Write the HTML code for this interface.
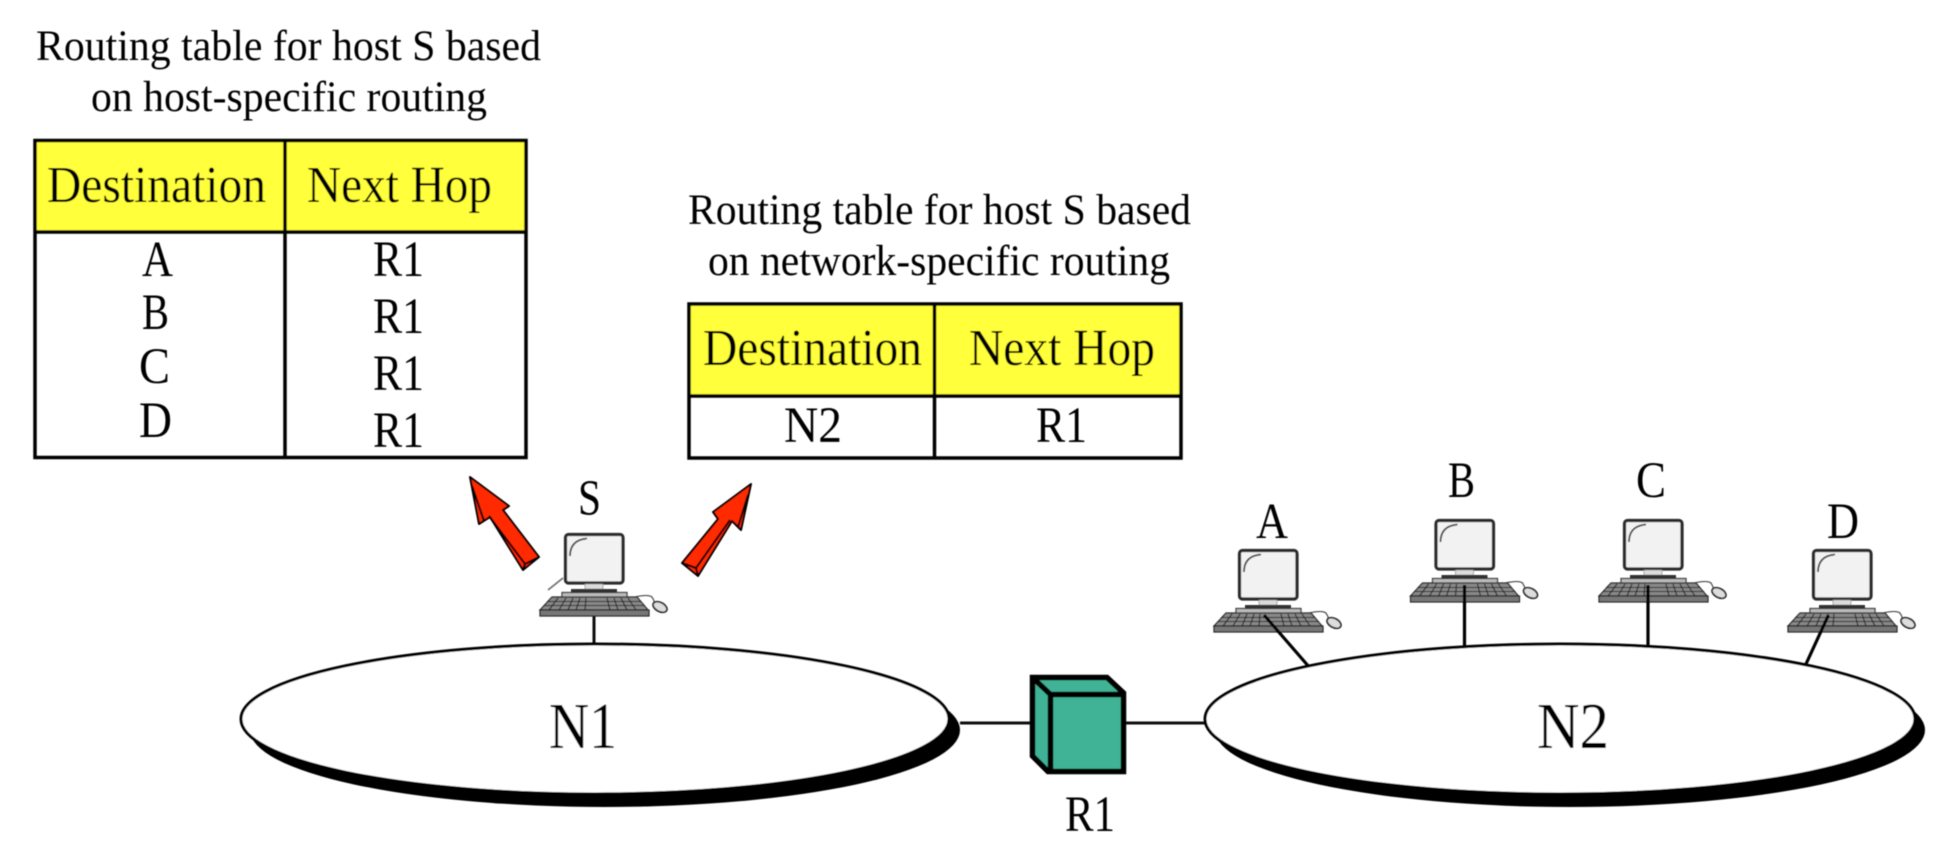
<!DOCTYPE html>
<html><head><meta charset="utf-8"><style>html,body{margin:0;padding:0;background:#fff}svg{display:block}text{font-family:"Liberation Serif",serif;fill:#000}</style></head><body>
<svg width="1960" height="860" viewBox="0 0 1960 860" xmlns="http://www.w3.org/2000/svg">
<defs>
<filter id="b" x="-2%" y="-2%" width="104%" height="104%"><feGaussianBlur stdDeviation="0.45"/></filter>
<g id="pc">
<rect x="565.5" y="534.5" width="57.5" height="48.5" rx="3" fill="#f2f2f2" stroke="#2c2c2c" stroke-width="3.2"/>
<path d="M570 556Q570 540 587 538.500" fill="none" stroke="#444" stroke-width="1.800"/>
<rect x="585" y="584" width="18" height="5" fill="#ddd" stroke="#888" stroke-width=".7"/>
<rect x="571" y="589" width="46" height="4" fill="#333"/>
<rect x="562" y="592.5" width="65" height="5" fill="#bbb" stroke="#333" stroke-width="1.200"/>
<path d="M552 597H637L648 610H540Z" fill="#888" stroke="#222" stroke-width="1.200"/>
<path d="M547 601.5H641M544 605.5H645" stroke="#222" stroke-width="1.100"/>
<path d="M558 598L549 610M566 598L559 610M573 598L568 610M580 598L576 610M586 598L585 610M607 598L610 610M614 598L618 610M621 598L627 610M628 598L636 610" stroke="#222" stroke-width="1.100"/>
<rect x="540" y="610" width="109" height="6" fill="#777" stroke="#222" stroke-width="1.200"/>
<path d="M635 597Q648 594 652 597Q654 600 655 604" fill="none" stroke="#333" stroke-width="1.100"/>
<ellipse cx="660" cy="607" rx="7.5" ry="4.5" transform="rotate(28 660 607)" fill="#ddd" stroke="#222" stroke-width="1.700"/>
</g>
</defs>
<rect width="1960" height="860" fill="#fff"/>
<g filter="url(#b)">
<!-- Table 1 -->
<text x="36" y="60" font-size="43" textLength="505" lengthAdjust="spacingAndGlyphs">Routing table for host S based</text>
<text x="91" y="111" font-size="43" textLength="396" lengthAdjust="spacingAndGlyphs">on host-specific routing</text>
<rect x="35" y="140.500" width="491" height="91" fill="#ffff3a"/>
<rect x="35" y="140.500" width="491" height="317" fill="none" stroke="#000" stroke-width="3.500"/>
<path d="M285 140V458M35 232H526" stroke="#000" stroke-width="3.500"/>
<text x="47" y="202" font-size="52" textLength="219" lengthAdjust="spacingAndGlyphs">Destination</text>
<text x="307" y="202" font-size="52" textLength="185" lengthAdjust="spacingAndGlyphs">Next Hop</text>
<g font-size="51">
<text x="142" y="276" textLength="31" lengthAdjust="spacingAndGlyphs">A</text>
<text x="142" y="329" textLength="27" lengthAdjust="spacingAndGlyphs">B</text>
<text x="139" y="383" textLength="31" lengthAdjust="spacingAndGlyphs">C</text>
<text x="139" y="437" textLength="33" lengthAdjust="spacingAndGlyphs">D</text>
<text x="373" y="276" textLength="51" lengthAdjust="spacingAndGlyphs">R1</text>
<text x="373" y="333" textLength="51" lengthAdjust="spacingAndGlyphs">R1</text>
<text x="373" y="390" textLength="51" lengthAdjust="spacingAndGlyphs">R1</text>
<text x="373" y="447" textLength="51" lengthAdjust="spacingAndGlyphs">R1</text>
</g>
<!-- Table 2 -->
<text x="688" y="224" font-size="43" textLength="503" lengthAdjust="spacingAndGlyphs">Routing table for host S based</text>
<text x="708" y="275" font-size="43" textLength="462" lengthAdjust="spacingAndGlyphs">on network-specific routing</text>
<rect x="689" y="304" width="492" height="92" fill="#ffff3a"/>
<rect x="689" y="304" width="492" height="154" fill="none" stroke="#000" stroke-width="3.500"/>
<path d="M934.500 304V458M689 396H1181" stroke="#000" stroke-width="3.500"/>
<text x="703" y="365" font-size="52" textLength="219" lengthAdjust="spacingAndGlyphs">Destination</text>
<text x="969" y="365" font-size="52" textLength="186" lengthAdjust="spacingAndGlyphs">Next Hop</text>
<text x="784" y="442" font-size="51" textLength="58" lengthAdjust="spacingAndGlyphs">N2</text>
<text x="1036" y="442" font-size="51" textLength="51" lengthAdjust="spacingAndGlyphs">R1</text>
<!-- Arrows -->
<path d="M470 477L509 506L503 510L539 557L523 570L490 517L479 524Z" fill="#ff2a00" stroke="#000" stroke-width="2" stroke-linejoin="round"/>
<path d="M472 486L484 521M489 516L525 564L539 557M525 564L523 570" fill="none" stroke="#000" stroke-width="2"/>
<path d="M751 484L713 512L718 519L682 563L698 576L732 521L741 530Z" fill="#ff2a00" stroke="#000" stroke-width="2" stroke-linejoin="round"/>
<path d="M748 495L738 527M730 520L696 568L682 563M696 568L698 576" fill="none" stroke="#000" stroke-width="2"/>
<!-- Connections -->
<path d="M594 616V645M960 723H1030M1126 723H1205" stroke="#111" stroke-width="3" fill="none"/>
<path d="M548 590L563 578" stroke="#666" stroke-width="1.500"/>
<!-- Computers -->
<use href="#pc"/>
<use href="#pc" x="674" y="16"/>
<use href="#pc" x="870.500" y="-14"/>
<use href="#pc" x="1059" y="-14"/>
<use href="#pc" x="1248" y="16"/>
<!-- Connectors over keyboards -->
<path d="M1264 615L1310 668M1464.500 585V646M1648 585V646M1828.500 615L1806 664" stroke="#000" stroke-width="3.200" fill="none"/>
<!-- Networks -->
<ellipse cx="605" cy="730" rx="355" ry="77" fill="#000"/>
<ellipse cx="595" cy="719" rx="354" ry="75" fill="#fff" stroke="#000" stroke-width="3"/>
<ellipse cx="1570" cy="730" rx="355" ry="77" fill="#000"/>
<ellipse cx="1560" cy="719" rx="355" ry="75" fill="#fff" stroke="#000" stroke-width="3"/>
<text x="549" y="748" font-size="66" textLength="68" lengthAdjust="spacingAndGlyphs">N1</text>
<text x="1537" y="748" font-size="66" textLength="72" lengthAdjust="spacingAndGlyphs">N2</text>
<!-- Router -->
<path d="M1032.500 677.500H1107L1123.500 693V771.500H1048L1032.500 756Z" fill="#40b396" stroke="#000" stroke-width="5.500" stroke-linejoin="miter"/>
<path d="M1032.500 677.500L1050.500 694.500H1123.500M1050.500 694.500V771.500" fill="none" stroke="#000" stroke-width="5.500"/>
<text x="1065" y="831" font-size="51" textLength="50" lengthAdjust="spacingAndGlyphs">R1</text>
<!-- Host labels -->
<g font-size="51">
<text x="578" y="515" textLength="23" lengthAdjust="spacingAndGlyphs">S</text>
<text x="1256" y="538" textLength="32" lengthAdjust="spacingAndGlyphs">A</text>
<text x="1448" y="497" textLength="27" lengthAdjust="spacingAndGlyphs">B</text>
<text x="1636" y="497" textLength="30" lengthAdjust="spacingAndGlyphs">C</text>
<text x="1827" y="538" textLength="32" lengthAdjust="spacingAndGlyphs">D</text>
</g>
</g>
</svg>
</body></html>
